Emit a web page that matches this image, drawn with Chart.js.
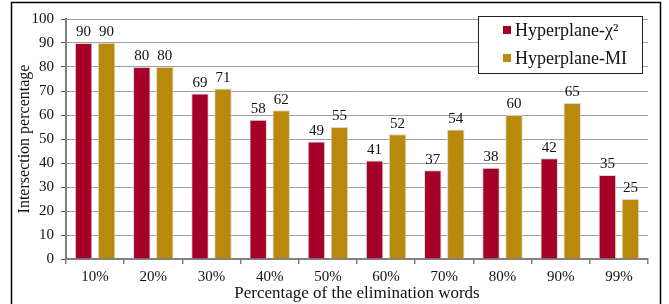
<!DOCTYPE html>
<html>
<head>
<meta charset="utf-8">
<script src="https://cdn.jsdelivr.net/npm/chart.js@4.4.1/dist/chart.umd.min.js"></script>
<style>
html,body{margin:0;padding:0;background:#fff;}
#wrap{position:relative;width:669px;height:304px;}
</style>
</head>
<body>
<div id="wrap"><canvas id="c" width="669" height="304"></canvas></div>
<script>
const categories = ['10%','20%','30%','40%','50%','60%','70%','80%','90%','99%'];
const chiValues = [90, 80, 69, 58, 49, 41, 37, 38, 42, 35];
const miValues  = [90, 80, 71, 62, 55, 52, 54, 60, 65, 25];
const seriesNames = ['Hyperplane-\u03C7\u00B2', 'Hyperplane-MI'];
const yTicks = [0,10,20,30,40,50,60,70,80,90,100];

const RED = '#A60029';
const GOLD = '#B8890A';
const FONT = '"Liberation Serif", "Times New Roman", serif';

const framePlugin = {
  id: 'frame',
  afterDraw(chart) {
    const ctx = chart.ctx;
    ctx.save();
    ctx.strokeStyle = '#000';
    ctx.lineWidth = 1.5;
    ctx.beginPath();
    ctx.moveTo(11.5, 310);
    ctx.lineTo(11.5, 2.5);
    ctx.lineTo(660.5, 2.5);
    ctx.lineTo(660.5, 310);
    ctx.stroke();
    ctx.restore();
  }
};

const labelPlugin = {
  id: 'valueLabels',
  afterDatasetsDraw(chart) {
    const ctx = chart.ctx;
    ctx.save();
    ctx.font = '15px ' + FONT;
    ctx.fillStyle = '#111';
    ctx.textAlign = 'center';
    ctx.textBaseline = 'bottom';
    chart.data.datasets.forEach((ds, i) => {
      const meta = chart.getDatasetMeta(i);
      meta.data.forEach((bar, j) => {
        ctx.fillText(String(Math.round(ds.data[j])), bar.x, bar.y - 3);
      });
    });
    ctx.restore();
  }
};

const legendPlugin = {
  id: 'boxLegend',
  afterDraw(chart) {
    const ctx = chart.ctx;
    const x = 478, y = 16, w = 164, h = 57;
    ctx.save();
    ctx.fillStyle = '#fff';
    ctx.fillRect(x, y, w, h);
    ctx.strokeStyle = '#222';
    ctx.lineWidth = 1;
    ctx.strokeRect(x + 0.5, y + 0.5, w, h);
    ctx.font = '18px ' + FONT;
    ctx.textBaseline = 'middle';
    ctx.textAlign = 'left';
    const rows = [30, 58];
    chart.data.datasets.forEach((ds, i) => {
      ctx.fillStyle = ds.backgroundColor;
      ctx.fillRect(503, rows[i] - 4, 8, 8);
      ctx.fillStyle = '#111';
      ctx.fillText(ds.label, 515, rows[i] + 1);
    });
    ctx.restore();
  }
};

new Chart(document.getElementById('c'), {
  type: 'bar',
  data: {
    labels: categories,
    datasets: [
      { label: seriesNames[0], data: chiValues, backgroundColor: RED, borderColor: 'rgba(210,210,210,0.9)', borderWidth: {top:1,left:1,right:1,bottom:0}, borderSkipped: false },
      { label: seriesNames[1], data: miValues, backgroundColor: GOLD, borderColor: 'rgba(210,210,210,0.9)', borderWidth: {top:1,left:1,right:1,bottom:0}, borderSkipped: false }
    ]
  },
  options: {
    responsive: false,
    animation: false,
    devicePixelRatio: 1,
    categoryPercentage: 0.79,
    barPercentage: 0.76,
    layout: { padding: { left: 15, right: 21, top: 19, bottom: 0 } },
    plugins: {
      legend: { display: false },
      tooltip: { enabled: false }
    },
    scales: {
      x: {
        grid: { display: true, offset: true, drawOnChartArea: false, drawTicks: true, tickLength: 5, color: '#808080', lineWidth: 1.5 },
        border: { display: true, color: '#808080', width: 2 },
        ticks: { color: '#111', font: { family: FONT, size: 15 }, padding: 4 },
        title: { display: true, text: 'Percentage of the elimination words', color: '#111', font: { family: FONT, size: 17 }, padding: { top: 0, bottom: 0 } },
        afterFit(scale) { scale.height = 45; }
      },
      y: {
        min: 0, max: 100,
        afterBuildTicks(scale) { scale.ticks = yTicks.map(v => ({ value: v })); },
        grid: { color: '#a0a0a0', lineWidth: 1, borderDash: [4, 3], tickLength: 5, tickColor: '#555', tickBorderDash: [] },
        border: { display: true, color: '#808080', width: 2 },
        ticks: { color: '#111', font: { family: FONT, size: 15 }, padding: 7 },
        title: { display: true, text: 'Intersection percentage', color: '#111', font: { family: FONT, size: 16 }, padding: { top: 0, bottom: 2 } },
        afterFit(scale) { scale.width = 51; }
      }
    }
  },
  plugins: [labelPlugin, legendPlugin, framePlugin]
});
</script>
</body>
</html>
